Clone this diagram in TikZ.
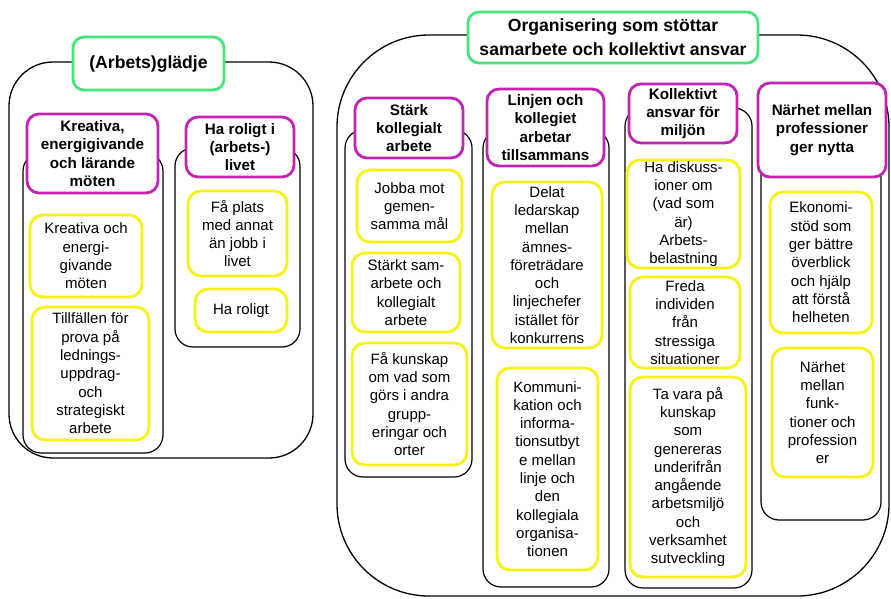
\documentclass[tikz,border=0pt]{standalone}
\usepackage{fontspec}
\setmainfont{Liberation Sans}
\definecolor{tgreen}{RGB}{70,228,125}
\definecolor{tmag}{RGB}{192,36,176}
\definecolor{tyel}{RGB}{246,242,20}
\tikzset{
  box/.style={rectangle, inner sep=0pt, align=center, anchor=center},
  outerbox/.style={box, draw=black, line width=1.3pt, rounded corners=#1},
  contbox/.style={box, draw=black, line width=1.2pt, rounded corners=18pt},
  titlebox/.style={box, draw=tgreen, line width=2.8pt, fill=white, rounded corners=11pt,
     font=\fontsize{17.6}{24}\selectfont\bfseries},
  headbox/.style={box, draw=tmag, line width=2.8pt, fill=white, rounded corners=12pt,
     font=\fontsize{15.2}{18.3}\selectfont\bfseries},
  itembox/.style={box, draw=tyel, line width=2.8pt, fill=white, rounded corners=13pt,
     font=\fontsize{15}{18.3}\selectfont},
}
\begin{document}
\begin{tikzpicture}[x=1pt,y=-1pt]
\useasboundingbox (0,0) rectangle (891,598);
\fill[white] (0,0) rectangle (891,598);
% ---------- left group ----------
\node[outerbox=44pt, minimum width=304pt, minimum height=396pt] (LO) at (161,260) {};
\node[titlebox, minimum width=151pt, minimum height=53pt] (G1) at (148.5,63.5) {(Arbets)glädje};
\node[contbox, minimum width=140pt, minimum height=300pt] (CL1) at (93,303) {};
\node[contbox, minimum width=125pt, minimum height=199pt] (CL2) at (237.5,247.5) {};
\node[headbox, minimum width=131pt, minimum height=79pt] (ML1) at (92.5,153.5) {Kreativa,\\energigivande\\och lärande\\möten};
\node[headbox, minimum width=108pt, minimum height=60pt] (ML2) at (240,147) {Ha roligt i\\(arbets-)\\livet};
\node[itembox, minimum width=112pt, minimum height=82pt] (YL1) at (86,256) {Kreativa och\\energi-\\givande\\möten};
\node[itembox, minimum width=117pt, minimum height=133pt] (YL2) at (90.5,373.5) {Tillfällen för\\prova på\\lednings-\\uppdrag-\\och\\strategiskt\\arbete};
\node[itembox, minimum width=99pt, minimum height=85pt] (YL3) at (237.5,233.5) {Få plats\\med annat\\än jobb i\\livet};
\node[itembox, minimum width=92pt, minimum height=43pt] (YL4) at (241,310.5) {Ha roligt};
% ---------- right group ----------
\node[outerbox=92pt, minimum width=552pt, minimum height=561pt] (RO) at (613,315.5) {};
\node[titlebox, minimum width=290pt, minimum height=51pt] (G2) at (613,37.5) {Organisering som stöttar\\samarbete och kollektivt ansvar};
% column 1
\node[contbox, minimum width=127pt, minimum height=347pt] (C1) at (408.5,303.5) {};
\node[headbox, minimum width=108pt, minimum height=60pt] (M1) at (409,128) {Stärk\\kollegialt\\arbete};
\node[itembox, minimum width=105pt, minimum height=72pt] (Y1a) at (409.5,206) {Jobba mot\\gemen-\\samma mål};
\node[itembox, minimum width=108pt, minimum height=79pt] (Y1b) at (406,292.5) {Stärkt sam-\\arbete och\\kollegialt\\arbete};
\node[itembox, minimum width=115pt, minimum height=122pt] (Y1c) at (409.5,404) {Få kunskap\\om vad som\\görs i andra\\grupp-\\eringar och\\orter};
% column 2
\node[contbox, minimum width=126pt, minimum height=457pt] (C2) at (546,358.5) {};
\node[headbox, minimum width=117pt, minimum height=77pt] (M2) at (545.5,127.5) {Linjen och\\kollegiet\\arbetar\\tillsammans};
\node[itembox, minimum width=110pt, minimum height=166pt] (Y2a) at (547,265) {Delat\\ledarskap\\mellan\\ämnes-\\företrädare\\och\\linjechefer\\istället för\\konkurrens};
\node[itembox, minimum width=101pt, minimum height=202pt] (Y2b) at (547.5,469) {Kommuni-\\kation och\\informa-\\tionsutbyt\\e mellan\\linje och\\den\\kollegiala\\organisa-\\tionen};
% column 3
\node[contbox, minimum width=127pt, minimum height=480pt] (C3) at (688.5,348) {};
\node[headbox, minimum width=108pt, minimum height=59pt] (M3) at (683,113.5) {Kollektivt\\ansvar för\\miljön};
\node[itembox, minimum width=113pt, minimum height=108pt] (Y3a) at (683.5,214) {Ha diskuss-\\ioner om\\(vad som\\är)\\Arbets-\\belastning};
\node[itembox, minimum width=110pt, minimum height=91pt] (Y3b) at (685,322.5) {Freda\\individen\\från\\stressiga\\situationer};
\node[itembox, minimum width=116pt, minimum height=200pt] (Y3c) at (688,477) {Ta vara på\\kunskap\\som\\genereras\\underifrån\\angående\\arbetsmiljö\\och\\verksamhet\\sutveckling};
% column 4
\node[contbox, minimum width=120pt, minimum height=400pt] (C4) at (821,320) {};
\node[headbox, minimum width=128pt, minimum height=94pt] (M4) at (822,130) {Närhet mellan\\professioner\\ger nytta};
\node[itembox, minimum width=102pt, minimum height=141pt] (Y4a) at (821,262.5) {Ekonomi-\\stöd som\\ger bättre\\överblick\\och hjälp\\att förstå\\helheten};
\node[itembox, minimum width=101pt, minimum height=129pt] (Y4b) at (822.5,412.5) {Närhet\\mellan\\funk-\\tioner och\\profession\\er};
\end{tikzpicture}
\end{document}
